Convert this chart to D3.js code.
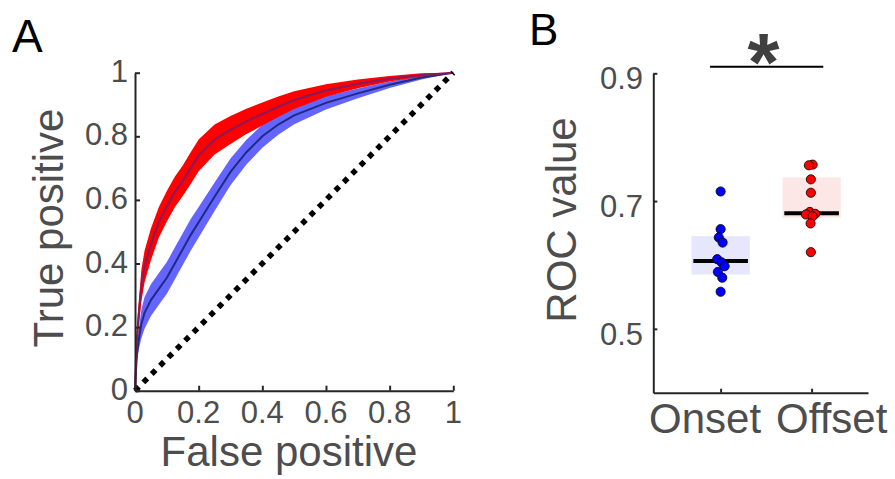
<!DOCTYPE html>
<html>
<head>
<meta charset="utf-8">
<script src="https://cdn.jsdelivr.net/npm/d3@7"></script>
<style>
  body { margin: 0; background: #fff; }
  svg { display: block; font-family: "Liberation Sans", Arial, sans-serif; }
</style>
</head>
<body>
<svg id="fig" width="895" height="479"></svg>
<script>
// panel A: ROC curves (false positive grid, mean and half-width of shaded band)
var fpr = [0, 0.005, 0.01, 0.02, 0.03, 0.05, 0.075, 0.1, 0.125, 0.15, 0.175, 0.2,
           0.25, 0.3, 0.35, 0.4, 0.45, 0.5, 0.6, 0.7, 0.8, 0.9, 1];
var offsetMean = [0, 0.15, 0.22, 0.33, 0.39, 0.46, 0.53, 0.58, 0.625, 0.66, 0.7, 0.74,
                  0.79, 0.82, 0.847, 0.87, 0.893, 0.914, 0.944, 0.965, 0.981, 0.993, 1];
var offsetErr = [0, 0.03, 0.04, 0.05, 0.05, 0.05, 0.048, 0.048, 0.048, 0.048, 0.05, 0.05,
                 0.047, 0.044, 0.04, 0.036, 0.032, 0.028, 0.02, 0.014, 0.009, 0.005, 0];
var onsetMean = [0, 0.1, 0.15, 0.21, 0.245, 0.285, 0.32, 0.355, 0.4, 0.445, 0.49, 0.53,
                 0.61, 0.688, 0.75, 0.8, 0.837, 0.866, 0.905, 0.935, 0.962, 0.985, 1];
var onsetErr = [0, 0.02, 0.03, 0.045, 0.05, 0.05, 0.05, 0.05, 0.05, 0.05, 0.05, 0.048,
                0.045, 0.042, 0.039, 0.036, 0.032, 0.028, 0.021, 0.015, 0.01, 0.006, 0];
var rocTicks = [0, 0.2, 0.4, 0.6, 0.8, 1];
var rocTickLabels = ["0", "0.2", "0.4", "0.6", "0.8", "1"];

// panel B: per-session ROC values
var groups = ["Onset", "Offset"];
var onsetVals = [0.715, 0.656, 0.643, 0.635, 0.609, 0.604, 0.598, 0.589, 0.580, 0.558];
var onsetJitter = [0, 0, -0.02, 0.022, -0.037, 0.011, 0.044, -0.03, 0.018, 0];
var offsetVals = [0.757, 0.756, 0.734, 0.713, 0.683, 0.680, 0.679, 0.676, 0.665, 0.620];
var offsetJitter = [0.012, -0.03, -0.008, -0.008, -0.019, 0.04, -0.062, 0.01, -0.011, -0.008];
var boxLo = [0.585, 0.674];
var boxHi = [0.645, 0.737];
var medians = [0.606, 0.681];
var valTicks = [0.5, 0.7, 0.9];

var svg = d3.select("#fig");
var axisColor = "#262626";
var textColor = "#4d4d4d";

// ---------------- panel A ----------------
var xA = d3.scaleLinear().domain([0, 1]).range([135, 453.3]);
var yA = d3.scaleLinear().domain([0, 1]).range([390.7, 72.7]);
var gA = svg.append("g");

function band(mean, err) {
    return d3.area()
        .x(function(d, i) { return xA(fpr[i]); })
        .y0(function(d, i) { return yA(Math.max(0, mean[i] - err[i])); })
        .y1(function(d, i) { return yA(Math.min(1, mean[i] + err[i])); })(fpr);
}
function meanLine(mean) {
    return d3.line()
        .x(function(d, i) { return xA(fpr[i]); })
        .y(function(d, i) { return yA(mean[i]); })(fpr);
}

gA.append("path").attr("d", band(onsetMean, onsetErr)).style("fill", "#6464ff");
gA.append("path").attr("d", meanLine(onsetMean))
    .style("fill", "none").style("stroke", "#1f2a80").style("stroke-width", "2px");
gA.append("path").attr("d", band(offsetMean, offsetErr)).style("fill", "#ff0000");
gA.append("path").attr("d", meanLine(offsetMean))
    .style("fill", "none").style("stroke", "#861a5c").style("stroke-width", "2px");

// chance diagonal
gA.append("line")
    .attr("x1", xA(0)).attr("y1", yA(0))
    .attr("x2", xA(1)).attr("y2", yA(1))
    .style("stroke", "#000")
    .style("stroke-width", "5.5px")
    .style("stroke-dasharray", "5.5 6.3");

// axes (inward ticks, matlab style)
var axA_x = gA.append("g").attr("transform", "translate(0," + yA(0) + ")")
    .call(d3.axisBottom(xA).tickValues(rocTicks).tickSizeInner(-5).tickSizeOuter(0).tickFormat(""));
var axA_y = gA.append("g").attr("transform", "translate(" + xA(0) + ",0)")
    .call(d3.axisLeft(yA).tickValues(rocTicks).tickSizeInner(-5).tickSizeOuter(0).tickFormat(""));
[axA_x, axA_y].forEach(function(a) {
    a.select(".domain").style("stroke", axisColor).style("stroke-width", "2px");
    a.selectAll(".tick line").style("stroke", axisColor).style("stroke-width", "2px");
});

gA.selectAll(".xtl").data(rocTicks).enter().append("text")
    .attr("x", function(d) { return xA(d); })
    .attr("y", 423)
    .attr("text-anchor", "middle")
    .style("font-size", "31px").style("fill", textColor)
    .text(function(d, i) { return rocTickLabels[i]; });

gA.selectAll(".ytl").data(rocTicks).enter().append("text")
    .attr("x", 128)
    .attr("y", function(d) { return yA(d) + 9; })
    .attr("text-anchor", "end")
    .style("font-size", "31px").style("fill", textColor)
    .text(function(d, i) { return rocTickLabels[i]; });

gA.append("text")
    .attr("x", 289).attr("y", 466)
    .attr("text-anchor", "middle")
    .style("font-size", "42px").style("fill", textColor)
    .text("False positive");

gA.append("text")
    .attr("transform", "translate(63,228) rotate(-90)")
    .attr("text-anchor", "middle")
    .style("font-size", "42px").style("fill", textColor)
    .text("True positive");

svg.append("text")
    .attr("x", 12).attr("y", 52)
    .style("font-size", "46px").style("fill", "#000")
    .text("A");

// ---------------- panel B ----------------
var xB = d3.scaleLinear().domain([0.26, 2.62]).range([653.3, 868]);
var yB = d3.scaleLinear().domain([0.4, 0.9]).range([392.7, 73.3]);
var gB = svg.append("g");
var boxHalf = 0.32;
var boxFill = ["#e6e6fc", "#fde6e6"];
var dotFill = ["#0000ff", "#ff0000"];

gB.selectAll(".box").data(groups).enter().append("rect")
    .attr("x", function(d, i) { return xB(i + 1 - boxHalf); })
    .attr("y", function(d, i) { return yB(boxHi[i]); })
    .attr("width", function(d, i) { return xB(i + 1 + boxHalf) - xB(i + 1 - boxHalf); })
    .attr("height", function(d, i) { return yB(boxLo[i]) - yB(boxHi[i]); })
    .style("fill", function(d, i) { return boxFill[i]; });

gB.selectAll(".med").data(medians).enter().append("line")
    .attr("x1", function(d, i) { return xB(i + 1 - 0.3); })
    .attr("x2", function(d, i) { return xB(i + 1 + 0.3); })
    .attr("y1", function(d) { return yB(d); })
    .attr("y2", function(d) { return yB(d); })
    .style("stroke", "#000").style("stroke-width", "4px");

[[onsetVals, onsetJitter], [offsetVals, offsetJitter]].forEach(function(s, g) {
    gB.selectAll(".dot" + g).data(s[0]).enter().append("circle")
        .attr("cx", function(d, i) { return xB(g + 1 + s[1][i]); })
        .attr("cy", function(d) { return yB(d); })
        .attr("r", 4.6)
        .style("fill", dotFill[g])
        .style("stroke", "#000")
        .style("stroke-width", "0.8px");
});

var axB_x = gB.append("g").attr("transform", "translate(0," + yB(0.4) + ")")
    .call(d3.axisBottom(xB).tickValues([1, 2]).tickSizeInner(-4).tickSizeOuter(0).tickFormat(""));
var axB_y = gB.append("g").attr("transform", "translate(" + xB(0.26) + ",0)")
    .call(d3.axisLeft(yB).tickValues(valTicks).tickSizeInner(-4).tickSizeOuter(0).tickFormat(""));
[axB_x, axB_y].forEach(function(a) {
    a.select(".domain").style("stroke", axisColor).style("stroke-width", "2px");
    a.selectAll(".tick line").style("stroke", axisColor).style("stroke-width", "2px");
});

gB.selectAll(".ytlB").data(valTicks).enter().append("text")
    .attr("x", 643)
    .attr("y", function(d) { return yB(d) + 16; })
    .attr("text-anchor", "end")
    .style("font-size", "31px").style("fill", textColor)
    .text(function(d) { return d3.format(".1f")(d); });

gB.append("text")
    .attr("x", xB(1.5) - 5).attr("y", 433)
    .attr("text-anchor", "end")
    .style("font-size", "42px").style("fill", textColor)
    .text(groups[0]);
gB.append("text")
    .attr("x", xB(1.5) + 10).attr("y", 433)
    .attr("text-anchor", "start")
    .style("font-size", "42px").style("fill", textColor)
    .text(groups[1]);

gB.append("text")
    .attr("transform", "translate(576,220) rotate(-90)")
    .attr("text-anchor", "middle")
    .style("font-size", "42px").style("fill", textColor)
    .text("ROC value");

// significance bar
gB.append("line")
    .attr("x1", 710).attr("x2", 823.3)
    .attr("y1", 66.7).attr("y2", 66.7)
    .style("stroke", "#000").style("stroke-width", "2px");
gB.append("text")
    .attr("x", 763.5).attr("y", 90)
    .attr("text-anchor", "middle")
    .style("font-size", "82px").style("font-weight", "bold").style("fill", "#404040")
    .text("*");

svg.append("text")
    .attr("x", 529).attr("y", 45)
    .style("font-size", "44px").style("fill", "#000")
    .text("B");
</script>
</body>
</html>
